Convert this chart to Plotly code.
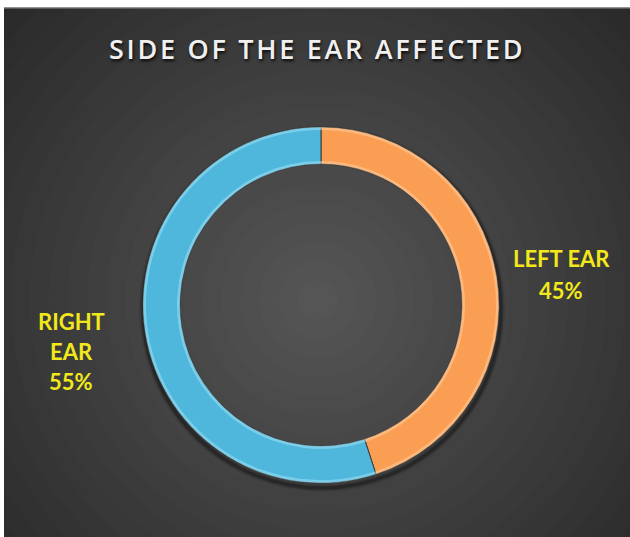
import plotly.graph_objects as go

# Share of cases by side of the ear
sides = ["LEFT EAR", "RIGHT EAR"]
shares = [45, 55]
side_colors = ["#F99E52", "#4EB7DB"]
rim_colors = ["rgba(255,205,160,0.55)", "rgba(160,225,245,0.55)"]
label_lines = [["LEFT EAR"], ["RIGHT", "EAR"]]

W, H = 630, 537
TOP_STRIP = 8      # white strip above the dark card
LEFT_STRIP = 4     # white strip left of the dark card

# donut geometry (pixels)
cx, cy, r_out, r_in = 321, 305, 178, 141


def px_x(x):
    return x / W


def px_y(y):
    return 1 - y / H


def ring_domain(r):
    return dict(x=[px_x(cx - r), px_x(cx + r)], y=[px_y(cy + r), px_y(cy - r)])


shapes = []
# dark card
shapes.append(dict(type="rect", xref="paper", yref="paper",
                   x0=px_x(LEFT_STRIP), x1=1, y0=0, y1=px_y(TOP_STRIP),
                   fillcolor="#232323", line=dict(width=0), layer="below"))
shapes.append(dict(type="line", xref="paper", yref="paper",
                   x0=px_x(LEFT_STRIP), x1=1, y0=px_y(TOP_STRIP), y1=px_y(TOP_STRIP),
                   line=dict(color="#6a6a6a", width=1.5), layer="below"))

# soft radial glow behind the donut
gx, gy = 318, 300
n = 25
for i in range(n):
    r = 480 - i * (460 / (n - 1))
    shapes.append(dict(type="circle", xref="paper", yref="paper",
                       x0=px_x(gx - r), x1=px_x(gx + r),
                       y0=px_y(gy + r), y1=px_y(gy - r),
                       fillcolor="rgba(255,255,255,0.0105)", line=dict(width=0),
                       layer="below"))

# drop shadow just outside the ring (outlines only, so the hole stays clear)
for a, w in [(0.10, 8), (0.16, 5), (0.22, 3)]:
    rr = r_out + 1
    sx, sy = cx + 1, cy + 4
    shapes.append(dict(type="circle", xref="paper", yref="paper",
                       x0=px_x(sx - rr), x1=px_x(sx + rr),
                       y0=px_y(sy + rr), y1=px_y(sy - rr),
                       line=dict(color=f"rgba(0,0,0,{a})", width=w),
                       layer="below"))

fig = go.Figure()
common = dict(labels=sides, values=shares, sort=False, direction="clockwise",
              rotation=0, textinfo="none", showlegend=False)
fig.add_trace(go.Pie(
    **common, hole=r_in / r_out, hoverinfo="label+percent",
    marker=dict(colors=side_colors, line=dict(color="#3a3a3a", width=1)),
    domain=ring_domain(r_out),
))
# bevel highlights along the outer and inner rims
fig.add_trace(go.Pie(
    **common, hole=(r_out - 3) / r_out, hoverinfo="skip",
    marker=dict(colors=rim_colors, line=dict(width=0)),
    domain=ring_domain(r_out),
))
fig.add_trace(go.Pie(
    **common, hole=r_in / (r_in + 3), hoverinfo="skip",
    marker=dict(colors=rim_colors, line=dict(width=0)),
    domain=ring_domain(r_in + 3),
))

# data labels
label_pos = [(561, [258, 290]), (71, [321, 351, 381])]
annotations = []
total = sum(shares)
for (lx, ys), lines, v in zip(label_pos, label_lines, shares):
    texts = lines + [f"{round(100 * v / total)}%"]
    for t, y in zip(texts, ys):
        annotations.append(dict(text=f"<b>{t}</b>", x=px_x(lx), y=px_y(y),
                                xref="paper", yref="paper", showarrow=False,
                                xanchor="center", yanchor="middle",
                                font=dict(family="Lato", size=22, color="#F2E81A")))

# title, letter-spaced with hair spaces, with a soft drop shadow
title = "SIDE OF THE EAR AFFECTED"
spaced = "\u200a".join(title)
annotations.append(dict(text=spaced, x=px_x(315), y=px_y(48), xref="paper", yref="paper",
                        showarrow=False, xanchor="center", yanchor="middle",
                        font=dict(family="Open Sans", size=27, color="#F0F0F0",
                                  weight=600,
                                  shadow="1px 2px 3px rgba(0,0,0,0.85)")))

fig.update_layout(
    width=W, height=H, margin=dict(l=0, r=0, t=0, b=0),
    paper_bgcolor="white", plot_bgcolor="white",
    shapes=shapes, annotations=annotations,
)

fig.write_html("out.html")
